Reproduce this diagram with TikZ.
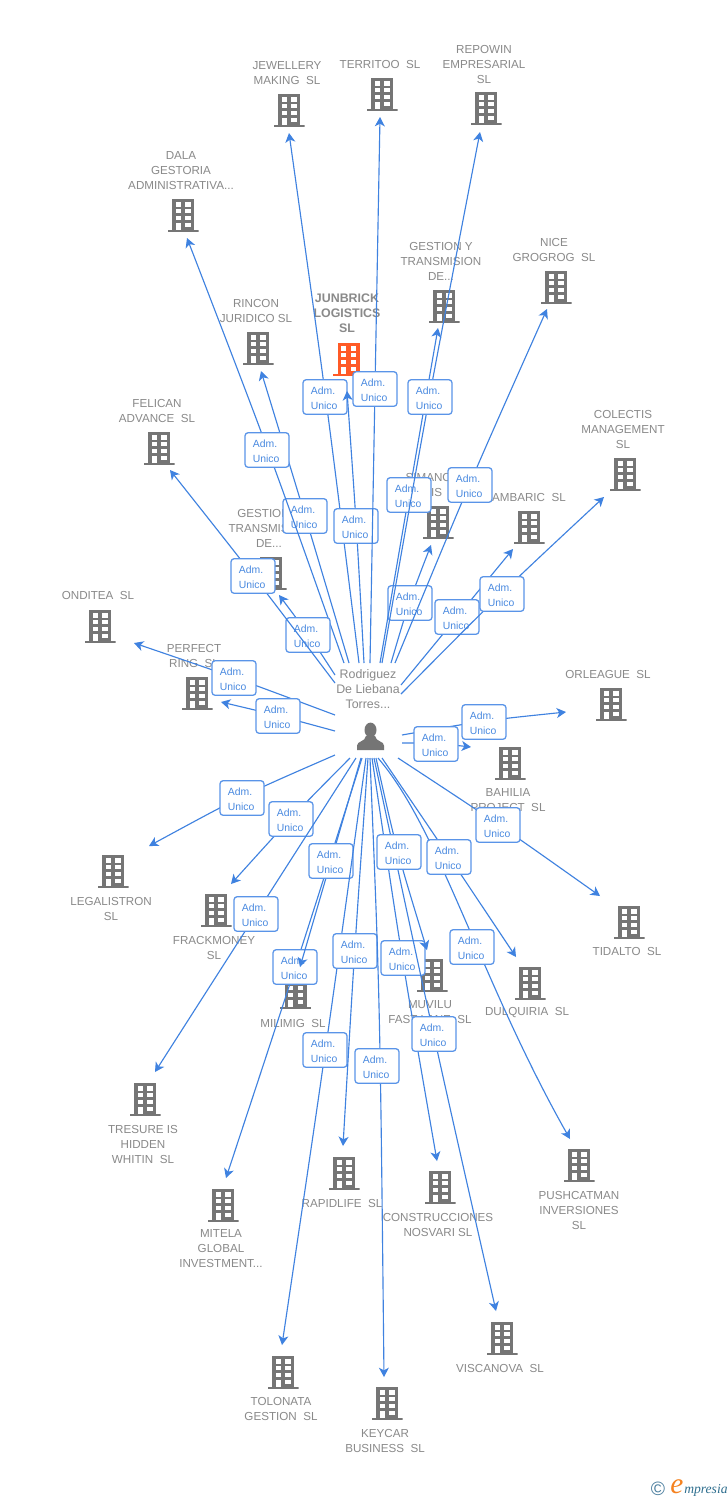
\documentclass[tikz,border=0pt]{standalone}
\usepackage{fontspec}
\setmainfont{Liberation Sans}
\newfontfamily\logoserif{Liberation Serif}
\usetikzlibrary{calc,arrows.meta}
\definecolor{edgeblue}{HTML}{3F82E0}
\definecolor{boxblue}{HTML}{5A94E8}
\definecolor{admtext}{HTML}{4A8AE0}
\definecolor{labgray}{HTML}{8A8A8A}
\definecolor{icongray}{HTML}{757575}
\definecolor{iconorange}{HTML}{FF5A26}
\definecolor{logoblue}{HTML}{4C7F9F}
\definecolor{logoink}{HTML}{2F6F8F}
\definecolor{logoorange}{HTML}{F58220}
\tikzset{
  x=0.75pt,y=-0.75pt,
  bldg/.style={minimum width=23.25pt,minimum height=25pt,inner sep=0pt,outer sep=0pt,
    path picture={
      \begin{scope}[shift={(path picture bounding box.center)}]
        \fill[#1] (-11,-16.5) rectangle (11,15.5);
        \fill[#1] (-15.5,15) rectangle (15.5,16.6);
        \foreach \yy in {-12.6,-5.8,0.8}{
          \fill[white] (-7.5,\yy) rectangle (-2.2,\yy+4.1);
          \fill[white] (2.2,\yy) rectangle (7.5,\yy+4.1);
        }
        \fill[white] (-7.5,7.5) rectangle (-2.2,14.8);
        \fill[white] (2.2,7.5) rectangle (7.5,11.9);
      \end{scope}
    }},
  blab/.style={font=\fontsize{8.72}{11.25}\selectfont,text=labgray,align=center,inner sep=0pt,yshift=-0.75pt},
  blabstrong/.style={font=\fontsize{9.3}{11.25}\selectfont\bfseries,text=labgray,align=center,inner sep=0pt,yshift=-0.75pt},
  plab/.style={font=\fontsize{9.3}{11.25}\selectfont,text=labgray,align=center,inner sep=0pt},
  admbox/.style={draw=boxblue,line width=0.95pt,fill=white,rounded corners=2.4pt,
    minimum width=33pt,minimum height=26pt,inner xsep=5.9pt,inner ysep=0pt,
    text width=21.2pt,align=left,text=admtext,font=\fontsize{7.8}{11.25}\selectfont},
  admline/.style={draw=edgeblue,line width=0.85pt,
    -{Stealth[length=7pt,width=7.5pt,inset=2pt]}}
}
\newcommand{\admtxt}{\rule{0pt}{7pt}Adm.\\Unico}
% id, building x y, label x y, text
\newcommand{\bldnode}[7][icongray]{%
  \node[bldg=#1] (b#2) at (#3,#4) {};
  \node[blab] (n#2) at (#5,#6) {#7};
}
% id, start, label, tip
\newcommand{\admedge}[7]{%
  \coordinate (s#1) at (#2,#3);
  \coordinate (c#1) at (#4,#5);
  \coordinate (t#1) at (#6,#7);
  \draw[admline] (s#1) .. controls ($2*(c#1)-0.5*(s#1)-0.5*(t#1)$) .. (t#1);
  \node[admbox] (l#1) at (c#1) {\admtxt};
}
% id, start, label, tip, control points as typed for the curve
\newcommand{\admedgevia}[8]{%
  \coordinate (s#1) at (#2,#3);
  \coordinate (c#1) at (#4,#5);
  \coordinate (t#1) at (#6,#7);
  \draw[admline] (s#1) .. controls #8 .. (t#1);
  \node[admbox] (l#1) at (c#1) {\admtxt};
}
\begin{document}
\begin{tikzpicture}
\useasboundingbox (0,0) rectangle (728,1500);
\fill[white] (0,0) rectangle (728,1500);

% companies
\bldnode{jew}{289}{110}{287}{72.5}{JEWELLERY\\MAKING~~SL}
\bldnode{ter}{382}{94}{380}{63}{TERRITOO~~SL}
\bldnode{rep}{486}{108}{484}{63}{REPOWIN\\EMPRESARIAL\\SL}
\bldnode{dal}{183}{215}{181}{170}{DALA\\GESTORIA\\ADMINISTRATIVA...}
\bldnode{rin}{258}{348}{256}{309.5}{RINCON\\JURIDICO SL}
\node[bldg=iconorange] (bjun) at (348.5,359) {};
\node[blabstrong] (njun) at (347,312) {JUNBRICK\\LOGISTICS\\SL};
\bldnode{ges}{444}{306}{441}{260}{GESTION Y\\TRANSMISION\\DE...}
\bldnode{nic}{556}{287}{554}{248.5}{NICE\\GROGROG~~SL}
\bldnode{fel}{159}{448}{157}{409.5}{FELICAN\\ADVANCE~~SL}
\bldnode{col}{625}{474}{623}{428}{COLECTIS\\MANAGEMENT\\SL}
\bldnode{gtr}{271}{573}{269}{527}{GESTION Y\\TRANSMISION\\DE...}
\bldnode{sim}{438}{522}{436}{476}{SIMANCAS}
\node[blab] (nsimb) at (447,491) {IS~~SL};
\bldnode{jam}{529}{527}{526}{496}{JAMBARIC~~SL}
\bldnode{ond}{100}{626}{98}{594}{ONDITEA~~SL}
\bldnode{per}{197}{693}{194}{654.5}{PERFECT\\RING~~SL}
\bldnode{orl}{611}{704}{608}{673}{ORLEAGUE~~SL}
\bldnode{bah}{510}{763}{508}{799.5}{BAHILIA\\PROJECT~~SL}
\bldnode{tid}{629}{922}{627}{950}{TIDALTO~~SL}
\bldnode{leg}{113}{871}{111}{907.5}{LEGALISTRON\\SL}
\bldnode{fra}{216}{910}{214}{946.5}{FRACKMONEY\\SL}
\bldnode{mil}{295.5}{992}{293}{1022}{MILIMIG~~SL}
\bldnode{muv}{432}{975}{430}{1011.5}{MUVILU\\FAST LANE~~SL}
\bldnode{dul}{530}{983}{527}{1012}{DULQUIRIA~~SL}
\bldnode{tre}{145}{1099}{143}{1143}{TRESURE IS\\HIDDEN\\WHITIN~~SL}
\bldnode{mit}{223}{1205}{221}{1248}{MITELA\\GLOBAL\\INVESTMENT...}
\bldnode{rap}{344}{1173}{342}{1202}{RAPIDLIFE~~SL}
\bldnode{con}{440}{1187}{438}{1223.5}{CONSTRUCCIONES\\NOSVARI SL}
\bldnode{pus}{579}{1165}{579}{1209}{PUSHCATMAN\\INVERSIONES\\SL}
\bldnode{vis}{502}{1338}{500}{1367}{VISCANOVA~~SL}
\bldnode{tol}{283}{1372}{281}{1407.5}{TOLONATA\\GESTION~~SL}
\bldnode{key}{387}{1403}{385}{1439.5}{KEYCAR\\BUSINESS~~SL}

% central person
\node[minimum width=24pt,minimum height=26pt,inner sep=0pt,
  path picture={
    \begin{scope}[shift={(path picture bounding box.center)}]
      \fill[icongray] (0,-7) ellipse (6 and 7.4);
      \fill[icongray] (-13.5,13) -- (-13.5,8.5) .. controls (-13.5,4) and (-5.5,5) .. (-4.5,-1)
        -- (4.5,-1) .. controls (5.5,5) and (13.5,4) .. (13.5,8.5) -- (13.5,13) -- cycle;
    \end{scope}
  }] (person) at (370.5,737) {};
\node[plab] (pname) at (368,689.5) {Rodriguez\\De Liebana\\Torres...};

% connectors (later ones lie over earlier boxes)
\admedge{rin}{349}{663}{305}{516}{261}{371}
\admedge{dal}{344}{663}{267}{450}{187}{238}
\admedge{jew}{359}{663}{325}{397}{289}{133}
\admedge{jun}{364}{663}{356}{526}{347}{391}
\admedge{ter}{370}{663}{375}{389}{380}{117}
\admedge{sim}{391}{663}{410}{603}{431}{545}
\admedge{ges}{380}{663}{409}{495}{438}{328}
\admedge{rep}{382}{663}{430}{397}{480}{132}
\admedge{nic}{395}{663}{470}{485}{547}{309}
\admedge{jam}{401}{685}{457}{617}{513}{549}
\admedge{col}{401}{694}{502}{594}{604}{497}
\admedge{gtr}{335}{675}{308}{635}{279}{595}
\admedge{fel}{335}{683}{253}{576}{170}{470}
\admedge{ond}{335}{715}{234}{678}{134}{643}
\admedge{per}{335}{731}{278}{716}{221}{702}
\admedge{orl}{402}{735}{484}{722}{566}{712}
\admedge{bah}{402}{743}{436}{744}{471}{747}
\admedge{tid}{398}{758}{498}{825}{600}{896}
\admedge{leg}{335}{755}{242}{798}{149}{846}
\admedge{fra}{350}{758}{291}{819}{231}{884}
\admedge{tre}{356}{758}{256}{914}{155}{1072}
\admedge{mit}{362}{758}{295}{967}{226}{1178}
\admedge{mil}{361}{758}{331}{861}{300}{967}
\admedge{tol}{366}{758}{325}{1050}{282}{1345}
\admedge{rap}{368}{758}{355}{951}{343}{1146}
\admedgevia{key}{370}{758}{377}{1066}{384}{1377}{(380,1000)}
\admedge{con}{372}{758}{403}{958}{437}{1161}
\admedge{vis}{374}{758}{434}{1034}{496}{1311}
\admedge{muv}{376}{758}{399}{852}{427}{950}
\admedgevia{pus}{378}{758}{472}{947}{570}{1139}{(440,830) and (480,980)}
\admedge{dul}{382}{758}{449}{857}{516}{957}

% logo
\node[inner sep=0pt,text=logoblue,font=\fontsize{14.5}{14.5}\selectfont] (lgc) at (658,1489) {©};
\node[inner sep=0pt,text=logoorange,font=\logoserif\itshape\fontsize{22}{22}\selectfont] (lge) at (677,1487) {e};
\node[inner sep=0pt,text=logoink,font=\logoserif\itshape\fontsize{10.2}{10}\selectfont,anchor=west] (lgm) at (684,1490) {mpresia};
\end{tikzpicture}
\end{document}
